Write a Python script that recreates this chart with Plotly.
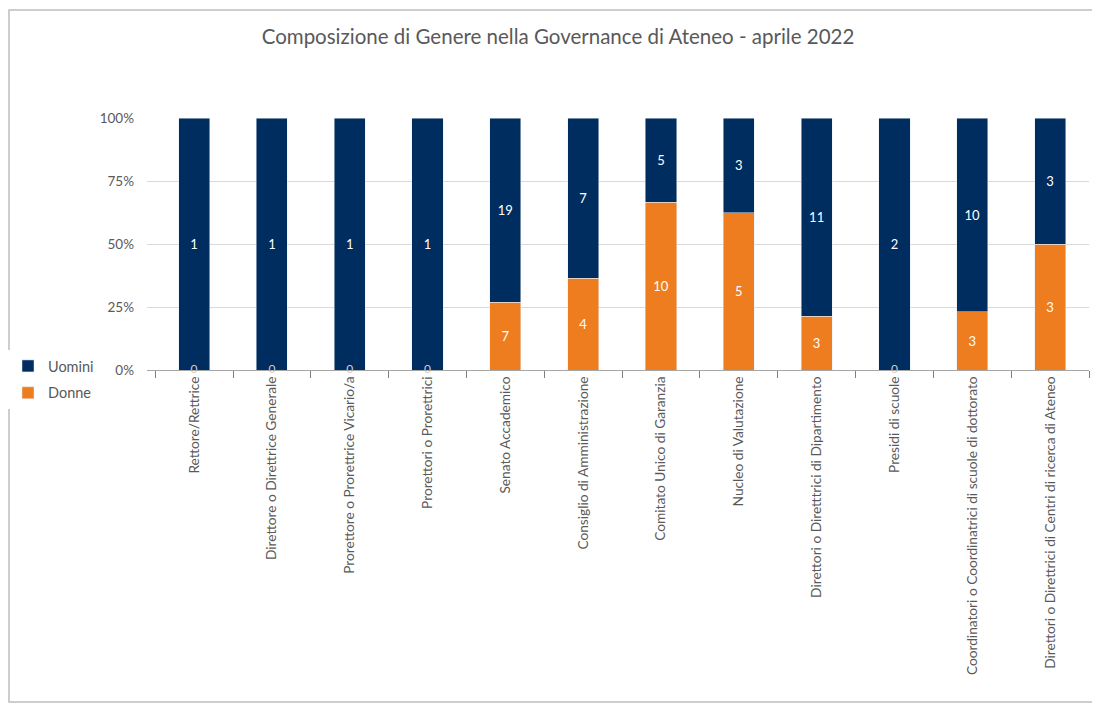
import plotly.graph_objects as go

categories = [
    "Rettore/Rettrice",
    "Direttore o Direttrice Generale",
    "Prorettore o Prorettrice Vicario/a",
    "Prorettori o Prorettrici",
    "Senato Accademico",
    "Consiglio di Amministrazione",
    "Comitato Unico di Garanzia",
    "Nucleo di Valutazione",
    "Direttori o Diretttrici di Dipartimento",
    "Presidi di scuole",
    "Coordinatori o Coordinatrici di scuole di dottorato",
    "Direttori o Direttrici di Centri di ricerca di Ateneo",
]
uomini = [1, 1, 1, 1, 19, 7, 5, 3, 11, 2, 10, 3]
donne = [0, 0, 0, 0, 7, 4, 10, 5, 3, 0, 3, 3]
y_ticks = [0, 25, 50, 75, 100]
y_tick_labels = ["0%", "25%", "50%", "75%", "100%"]

NAVY = "#002D5F"
ORANGE = "#EE7D1F"
GREY = "#595959"
FONT = "Lato"

fig = go.Figure()
fig.add_trace(go.Bar(
    x=categories, y=donne, name="Donne", marker_color=ORANGE,
    legendgroup="d", legendrank=2,
    text=[str(v) if v else "" for v in donne], textposition="inside",
    insidetextanchor="middle", textfont=dict(color="white", size=13, family=FONT),
    width=0.4,
))
fig.add_trace(go.Bar(
    x=categories, y=uomini, name="Uomini", marker_color=NAVY,
    legendgroup="u", legendrank=1,
    text=[str(v) for v in uomini], textposition="inside",
    insidetextanchor="middle", textfont=dict(color="white", size=13, family=FONT),
    width=0.4,
))
zero_cats = [c for c, d in zip(categories, donne) if d == 0]
fig.add_trace(go.Scatter(
    x=zero_cats, y=[0] * len(zero_cats), mode="text", text=["0"] * len(zero_cats),
    textfont=dict(color="#D0D0D0", size=12, family=FONT), showlegend=False,
    hoverinfo="skip", cliponaxis=False,
))

# page has an 8px body margin, so the figure is offset by 8px
OFF = 8
W, H = 1100 - OFF, 706 - OFF
L, T = 147 - OFF, 118 - OFF
R = W - (1089 - OFF)
B = H - (370 - OFF)
pw, ph = W - L - R, H - T - B

def px(X):
    return (X - OFF - L) / pw

def py(Y):
    return (H - B - (Y - OFF)) / ph

fig.update_layout(
    width=W, height=H,
    margin=dict(l=L, r=R, t=T, b=B, autoexpand=False),
    barmode="stack", barnorm="percent",
    paper_bgcolor="white", plot_bgcolor="white",
    font=dict(family=FONT, color=GREY, size=13),
    title=dict(
        text="Composizione di Genere nella Governance di Ateneo - aprile 2022",
        x=(558 - OFF) / W, xanchor="center", y=1 - (37 - OFF) / H, yanchor="middle",
        yref="container", font=dict(size=20.5, color=GREY, family=FONT),
        automargin=False,
    ),
    legend=dict(
        xref="container", yref="container",
        x=0, xanchor="left", y=1 - (350 - OFF) / H, yanchor="top",
        traceorder="grouped", font=dict(size=14.5, color=GREY, family=FONT),
        itemwidth=30, tracegroupgap=5,
    ),
    xaxis=dict(
        tickangle=-90, tickson="boundaries", ticks="outside", ticklen=7,
        tickcolor="#7F7F7F", showline=True, linecolor="#A6A6A6", linewidth=1,
        tickfont=dict(size=13.7, color=GREY, family=FONT), showgrid=False,
        automargin=False,
    ),
    yaxis=dict(
        range=[0, 100], tickvals=y_ticks, ticktext=y_tick_labels,
        showgrid=True, gridcolor="#D9D9D9", gridwidth=1, zeroline=False,
        tickfont=dict(size=13.5, color=GREY, family=FONT), ticks="",
        ticklabelstandoff=12, automargin=False,
    ),
    shapes=[dict(
        type="rect", xref="paper", yref="paper",
        x0=px(9), x1=px(1106), y0=py(702), y1=py(10),
        line=dict(color="#BFBFBF", width=1.5), fillcolor="rgba(0,0,0,0)",
        layer="below",
    )],
)

fig.write_html("out.html")
